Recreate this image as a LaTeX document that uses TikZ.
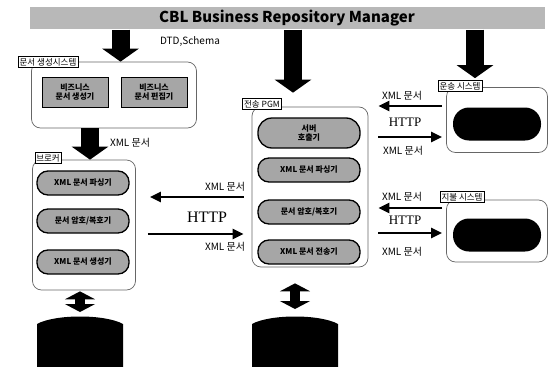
\documentclass[tikz,border=0pt]{standalone}
\usepackage{fontspec}
\setmainfont{Noto Sans CJK KR}
\newfontfamily\httpfont{Liberation Serif}
\usetikzlibrary{shapes,arrows.meta,positioning,calc}

\tikzset{
  banner/.style={fill=black!28, minimum width=515pt, minimum height=22pt, font=\fontsize{15}{18}\selectfont\bfseries},
  sysbox/.style={draw=black!60, line width=0.7pt, rounded corners=9pt},
  syslabel/.style={draw, line width=0.5pt, fill=white, inner sep=1.5pt, font=\fontsize{8.5}{10}\selectfont},
  module/.style={draw, line width=1pt, fill=black!35, inner sep=1pt, minimum width=66pt, minimum height=30pt, font=\fontsize{8}{9.5}\selectfont\bfseries, align=center},
  pill/.style={draw, line width=1.3pt, fill=black!35, rounded corners=11pt, minimum width=92pt, minimum height=24pt, inner sep=1pt, font=\fontsize{8}{9.5}\selectfont\bfseries, align=center},
  blackpill/.style={fill=black, rounded corners=16pt, minimum width=88pt, minimum height=33pt},
  bigarrow/.style={line width=18pt, -{Triangle[length=13pt,width=36pt]}},
  dblarrow/.style={line width=10pt, {Triangle[length=8pt,width=30pt]}-{Triangle[length=8pt,width=30pt]}},
  msgarrow/.style={line width=2.5pt, -{Triangle[length=11pt,width=10pt]}},
  msg/.style={font=\fontsize{10}{12}\selectfont},
  proto/.style={font=\httpfont\fontsize{16}{17}\selectfont}
}

\begin{document}
\begin{tikzpicture}[x=1pt, y=-1pt]
    \useasboundingbox (0,0) rectangle (552,367);

    % Repository manager
    \node[banner] (crbm) at (287,18) {CBL Business Repository Manager};

    % Document generation system
    \node[sysbox, minimum width=165pt, minimum height=66pt] (gensys) at (114,95) {};
    \node[syslabel] (genlbl) at (48,62) {문서 생성시스템};
    \node[module] (bizgen) at (75,92) {비즈니스\\문서 생성기};
    \node[module] (bizedit) at (154,92) {비즈니스\\문서 편집기};

    % Broker
    \node[sysbox, minimum width=103pt, minimum height=130pt] (broker) at (84,225) {};
    \node[syslabel] (brklbl) at (48,158) {브로커};
    \foreach \i/\y/\txt in {1/183/XML 문서 파싱기, 2/221/{문서 암호/복호기}, 3/262/XML 문서 생성기}
        \node[pill] (b\i) at (83,\y) {\txt};

    % Transfer PGM
    \node[sysbox, minimum width=116pt, minimum height=160pt] (pgm) at (310,187) {};
    \node[syslabel] (pgmlbl) at (262,104) {전송 PGM};
    \node[pill, minimum width=102pt, minimum height=30pt, rounded corners=14pt] (p1) at (309,133) {서버\\호출기};
    \foreach \i/\y/\txt in {2/170/XML 문서 파싱기, 3/212/{문서 암호/복호기}, 4/252/XML 문서 전송기}
        \node[pill, minimum width=102pt] (p\i) at (309,\y) {\txt};

    % External systems
    \node[sysbox, minimum width=101pt, minimum height=65pt] (trans) at (497,120) {};
    \node[syslabel] (translbl) at (460,86) {운송 시스템};
    \node[blackpill] (transapp) at (497,124) {};
    \node[sysbox, minimum width=101pt, minimum height=62pt] (pay) at (497,231) {};
    \node[syslabel] (paylbl) at (462,197) {지불 시스템};
    \node[blackpill] (payapp) at (497,235) {};

    % Databases
    \foreach \name/\x in {db1/80, db2/295} {
        \coordinate (\name) at (\x,317);
        \fill[black] (\x-43,372) -- (\x-43,324) .. controls (\x-25,314) and (\x+25,314) .. (\x+43,324) -- (\x+43,372) -- cycle;
    }

    % Downward flows
    \draw[bigarrow] (crbm.south -| bizedit.west) -- (gensys.north -| bizedit.west);
    \draw[bigarrow] ([xshift=-17pt]crbm.south -| pgm.north) -- ([xshift=-17pt,yshift=14pt]pgm.north);
    \draw[bigarrow] ([xshift=-22pt]crbm.south -| trans.north) -- ([xshift=-22pt,yshift=9pt]trans.north);
    \node[msg] (dtd) at (190,41) {DTD,Schema};
    \draw[bigarrow] ([xshift=-24pt]gensys.south) -- ([xshift=-24pt]gensys.south |- broker.north);
    \node[msg] (xmldoc) at (130,143) {XML 문서};
    \draw[dblarrow] ([yshift=-1pt]broker.south -| db1) -- ([yshift=5pt]db1);
    \draw[dblarrow] ([yshift=-16pt]pgm.south -| db2) -- ([yshift=8pt]db2);

    % Broker <-> PGM
    \coordinate (m1) at (0,197);
    \coordinate (m2) at (0,234);
    \draw[msgarrow] ([xshift=-8pt]pgm.west |- m1) -- ([xshift=14pt]broker.east |- m1);
    \draw[msgarrow] ([xshift=12pt]broker.east |- m2) -- ([xshift=-8pt]pgm.west |- m2);
    \node[msg] (l1) at (225,187) {XML 문서};
    \node[proto] (l2) at (207,217) {HTTP};
    \node[msg] (l3) at (225,247) {XML 문서};

    % PGM <-> external systems
    \coordinate (m3) at (0,106);
    \coordinate (m4) at (0,137);
    \coordinate (m5) at (0,208);
    \coordinate (m6) at (0,233);
    \draw[msgarrow] ([xshift=-4pt]trans.west |- m3) -- ([xshift=10pt]pgm.east |- m3);
    \draw[msgarrow] ([xshift=10pt]pgm.east |- m4) -- ([xshift=-4pt]trans.west |- m4);
    \draw[msgarrow] ([xshift=-4pt]pay.west |- m5) -- ([xshift=10pt]pgm.east |- m5);
    \draw[msgarrow] ([xshift=10pt]pgm.east |- m6) -- ([xshift=-4pt]pay.west |- m6);
    \node[msg] (r1) at (402,96) {XML 문서};
    \node[proto, font=\httpfont\fontsize{13}{14}\selectfont] (r2) at (405,122) {HTTP};
    \node[msg] (r3) at (403,151) {XML 문서};
    \node[msg] (r4) at (402,197) {XML 문서};
    \node[proto, font=\httpfont\fontsize{13}{14}\selectfont] (r5) at (405,220) {HTTP};
    \node[msg] (r6) at (402,252) {XML 문서};
\end{tikzpicture}
\end{document}
